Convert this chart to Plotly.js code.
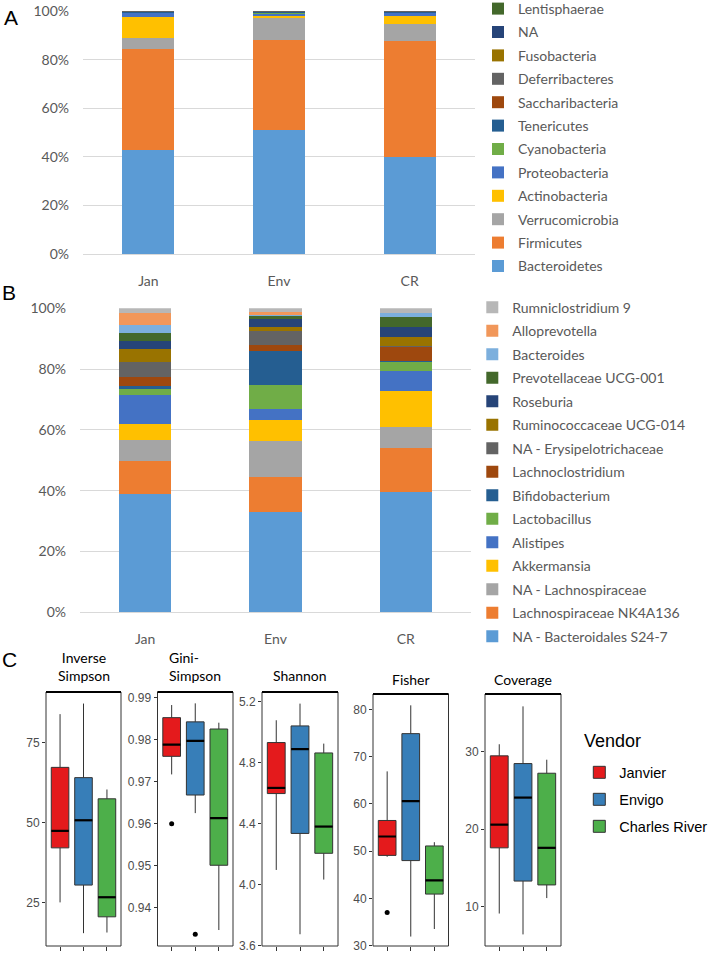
<!DOCTYPE html>
<html><head><meta charset="utf-8">
<script src="https://cdn.plot.ly/plotly-3.0.1.min.js"></script>
<style>html,body{margin:0;padding:0;background:#fff}#chart{width:709px;height:953px}</style>
</head><body><div id="chart"></div>
<script>
// ---------------- DATA ----------------
const groupsAB = ['Jan', 'Env', 'CR'];
const percentTicks = [0, 20, 40, 60, 80, 100];
const percentTickText = ['0%', '20%', '40%', '60%', '80%', '100%'];

// Panel A: phyla (stack order bottom -> top)
const phyla = ['Bacteroidetes','Firmicutes','Verrucomicrobia','Actinobacteria','Proteobacteria','Cyanobacteria',
               'Tenericutes','Saccharibacteria','Deferribacteres','Fusobacteria','NA','Lentisphaerae'];
const phylaColors = ['#5B9BD5','#ED7D31','#A5A5A5','#FFC000','#4472C4','#70AD47',
                     '#255E91','#9E480E','#636363','#997300','#264478','#43682B'];
const phylaJan = [42.8, 41.6, 4.6, 8.7, 1.5, 0.1, 0.2, 0.2, 0.1, 0.0, 0.1, 0.1];
const phylaEnv = [51.0, 37.2, 8.9, 0.7, 1.0, 0.5, 0.2, 0.1, 0.2, 0.0, 0.0, 0.2];
const phylaCR  = [39.8, 47.9, 7.1, 3.3, 1.0, 0.1, 0.2, 0.1, 0.5, 0.0, 0.0, 0.0];

// Panel B: genera (stack order bottom -> top)
const genera = ['NA - Bacteroidales S24-7','Lachnospiraceae NK4A136','NA - Lachnospiraceae','Akkermansia','Alistipes',
                'Lactobacillus','Bifidobacterium','Lachnoclostridium','NA - Erysipelotrichaceae','Ruminococcaceae UCG-014',
                'Roseburia','Prevotellaceae UCG-001','Bacteroides','Alloprevotella','Rumniclostridium 9'];
const generaColors = ['#5B9BD5','#ED7D31','#A5A5A5','#FFC000','#4472C4','#70AD47','#255E91','#9E480E',
                      '#636363','#997300','#264478','#43682B','#7CAFDD','#F1975A','#B7B7B7'];
const generaJan = [38.8, 11.0, 6.9, 5.4, 9.5, 2.0, 0.7, 3.2, 4.8, 4.4, 2.5, 2.7, 2.7, 4.0, 1.4];
const generaEnv = [33.0, 11.4, 11.9, 6.9, 3.8, 7.7, 11.1, 2.1, 4.6, 1.4, 2.5, 1.1, 0.4, 0.9, 1.2];
const generaCR  = [39.7, 14.2, 6.9, 12.0, 6.5, 3.0, 0.2, 4.8, 0.2, 2.9, 3.3, 3.3, 1.6, 0.0, 1.4];

// Panel C: alpha diversity box statistics (Janvier, Envigo, Charles River)
const vendors = ['Janvier', 'Envigo', 'Charles River'];
const vendorColors = ['#E41A1C', '#377EB8', '#4DAF4A'];

const invSimpsonLower  = [25.1, 15.5, 15.7];
const invSimpsonQ1     = [42.1, 30.5, 20.6];
const invSimpsonMedian = [47.4, 50.7, 26.7];
const invSimpsonQ3     = [67.2, 64.0, 57.4];
const invSimpsonUpper  = [83.8, 87.1, 60.3];

const giniLower  = [0.9717, 0.9625, 0.9347];
const giniQ1     = [0.9760, 0.9668, 0.9501];
const giniMedian = [0.9788, 0.9797, 0.9613];
const giniQ3     = [0.9852, 0.9842, 0.9825];
const giniUpper  = [0.9882, 0.9886, 0.9840];
const giniOutliers = [0.9600, 0.9337];
const giniOutlierVendor = ['Janvier', 'Envigo'];

const shannonLower  = [4.096, 3.675, 4.033];
const shannonQ1     = [4.596, 4.335, 4.205];
const shannonMedian = [4.633, 4.887, 4.380];
const shannonQ3     = [4.930, 5.039, 4.862];
const shannonUpper  = [5.076, 5.185, 4.923];

const fisherLower  = [48.8, 31.9, 33.5];
const fisherQ1     = [49.1, 48.0, 40.9];
const fisherMedian = [53.1, 60.6, 43.8];
const fisherQ3     = [56.5, 74.9, 51.1];
const fisherUpper  = [66.9, 80.9, 51.9];
const fisherOutliers = [37.0];
const fisherOutlierVendor = ['Janvier'];

const coverageLower  = [9.1, 6.4, 11.1];
const coverageQ1     = [17.6, 13.3, 12.8];
const coverageMedian = [20.6, 24.1, 17.6];
const coverageQ3     = [29.5, 28.5, 27.25];
const coverageUpper  = [31.0, 35.9, 29.0];

const metricTitles = ['Inverse<br>Simpson', 'Gini-<br>Simpson', 'Shannon', 'Fisher', 'Coverage'];
const metricTickVals = [[25, 50, 75], [0.94, 0.95, 0.96, 0.97, 0.98, 0.99], [3.6, 4.0, 4.4, 4.8, 5.2],
                        [30, 40, 50, 60, 70, 80], [10, 20, 30]];
const metricTickFormat = ['d', '.2f', '.1f', 'd', 'd'];

// ---------------- LAYOUT HELPERS ----------------
const W = 709, H = 953;
const fx = p => p / W;
const fy = p => 1 - p / H;

const catFont = {family: 'Lato, "Open Sans", sans-serif', size: 14, color: '#595959'};
const legFont = {family: 'Lato, "Open Sans", sans-serif', size: 14, color: '#595959'};

const traces = [];

// Panel A
const phylaByGroup = [phylaJan, phylaEnv, phylaCR];
phyla.forEach((name, i) => {
  traces.push({
    type: 'bar', name: name, x: groupsAB, y: phylaByGroup.map(g => g[i]),
    marker: {color: phylaColors[i], line: {width: 0}},
    xaxis: 'x', yaxis: 'y', legend: 'legend', legendgroup: 'A' + i, legendrank: 1000 - i,
    hoverinfo: 'name+y'
  });
});

// Panel B
const generaByGroup = [generaJan, generaEnv, generaCR];
genera.forEach((name, i) => {
  traces.push({
    type: 'bar', name: name, x: groupsAB, y: generaByGroup.map(g => g[i]),
    marker: {color: generaColors[i], line: {width: 0}},
    xaxis: 'x2', yaxis: 'y2', legend: 'legend2', legendgroup: 'B' + i, legendrank: 1000 - i,
    hoverinfo: 'name+y'
  });
});

// Panel C
const metrics = [
  {lower: invSimpsonLower, q1: invSimpsonQ1, med: invSimpsonMedian, q3: invSimpsonQ3, upper: invSimpsonUpper, out: [], outV: []},
  {lower: giniLower, q1: giniQ1, med: giniMedian, q3: giniQ3, upper: giniUpper, out: giniOutliers, outV: giniOutlierVendor},
  {lower: shannonLower, q1: shannonQ1, med: shannonMedian, q3: shannonQ3, upper: shannonUpper, out: [], outV: []},
  {lower: fisherLower, q1: fisherQ1, med: fisherMedian, q3: fisherQ3, upper: fisherUpper, out: fisherOutliers, outV: fisherOutlierVendor},
  {lower: coverageLower, q1: coverageQ1, med: coverageMedian, q3: coverageQ3, upper: coverageUpper, out: [], outV: []}
];
const boxW = 0.75;
metrics.forEach((m, k) => {
  const xa = 'x' + (k + 3), ya = 'y' + (k + 3);
  vendors.forEach((v, j) => {
    traces.push({
      type: 'box', name: v, orientation: 'v', x: [j + 1],
      q1: [m.q1[j]], median: [m.med[j]], q3: [m.q3[j]],
      lowerfence: [m.lower[j]], upperfence: [m.upper[j]],
      width: boxW, boxpoints: false, whiskerwidth: 0,
      fillcolor: vendorColors[j], line: {color: '#333333', width: 1},
      xaxis: xa, yaxis: ya, legend: 'legend3', legendgroup: v,
      showlegend: k === 0, hoverinfo: 'y'
    });
  });
  // thicker black median lines
  const mx = [], my = [];
  vendors.forEach((v, j) => {
    mx.push(j + 1 - boxW / 2, j + 1 + boxW / 2, null);
    my.push(m.med[j], m.med[j], null);
  });
  traces.push({type: 'scatter', mode: 'lines', x: mx, y: my, line: {color: '#000', width: 2.2},
               xaxis: xa, yaxis: ya, showlegend: false, hoverinfo: 'skip'});
  if (m.out.length) {
    traces.push({type: 'scatter', mode: 'markers', x: m.outV.map(v => vendors.indexOf(v) + 1), y: m.out,
                 marker: {color: '#000', size: 5}, xaxis: xa, yaxis: ya, showlegend: false, hoverinfo: 'y'});
  }
});

// ---------------- LAYOUT ----------------
const layout = {
  width: W, height: H,
  margin: {l: 0, r: 0, t: 0, b: 0, autoexpand: false},
  paper_bgcolor: '#fff', plot_bgcolor: 'rgba(0,0,0,0)',
  barmode: 'stack', bargap: 0.6, boxmode: 'overlay',
  font: {family: 'Lato, sans-serif'},
  xaxis: {domain: [fx(83), fx(475)], anchor: 'y', tickfont: catFont, showline: true, linecolor: '#D9D9D9',
          ticks: '', ticklabelstandoff: 14, fixedrange: true, showgrid: false},
  yaxis: {domain: [fy(254), fy(11)], anchor: 'x', range: [0, 100], tickmode: 'array', tickvals: percentTicks, ticktext: percentTickText,
          gridcolor: '#D9D9D9', zeroline: false, tickfont: catFont, ticklabelstandoff: 13, fixedrange: true},
  xaxis2: {domain: [fx(80), fx(471)], anchor: 'y2', tickfont: catFont, showline: true, linecolor: '#D9D9D9',
           ticks: '', ticklabelstandoff: 14, fixedrange: true, showgrid: false},
  yaxis2: {domain: [fy(612.3), fy(308.3)], anchor: 'x2', range: [0, 100], tickmode: 'array', tickvals: percentTicks, ticktext: percentTickText,
           gridcolor: '#D9D9D9', zeroline: false, tickfont: catFont, ticklabelstandoff: 13, fixedrange: true},
  legend: {x: fx(478), y: 1 + 7 / H, xanchor: 'left', yanchor: 'top', font: legFont, bgcolor: 'rgba(0,0,0,0)',
           traceorder: 'grouped', tracegroupgap: 2.2},
  legend2: {x: fx(472.3), y: fy(291.7), xanchor: 'left', yanchor: 'top', font: legFont, bgcolor: 'rgba(0,0,0,0)',
            traceorder: 'grouped', tracegroupgap: 2.3},
  legend3: {x: fx(579.3), y: fy(756.4), xanchor: 'left', yanchor: 'top', bgcolor: 'rgba(0,0,0,0)',
            font: {family: '"Liberation Sans", Arial, sans-serif', size: 14.5, color: '#000'},
            traceorder: 'grouped', tracegroupgap: 5.15},
  annotations: [],
  shapes: []
};

const panelX = [[46, 121], [157.5, 233], [262, 338], [373, 448.5], [485, 561]];
const panelTop = [692, 692, 692, 694, 694];
const panelBottom = 946;
const panelRange = [[11.5, 90.7], [0.9309, 0.9913], [3.598, 5.261], [29.9, 83.3], [4.9, 37.5]];
const titleY = [[656.7, 675.7], [656.7, 675.7], [675.7], [679], [679]];

metrics.forEach((m, k) => {
  const n = k + 3;
  layout['xaxis' + n] = {domain: [fx(panelX[k][0]), fx(panelX[k][1])], anchor: 'y' + n, range: [0.4, 3.6],
    tickvals: [1, 2, 3], showticklabels: false, ticks: 'outside', ticklen: 4, tickcolor: '#333', tickwidth: 1,
    showgrid: false, zeroline: false, showline: false, fixedrange: true};
  layout['yaxis' + n] = {domain: [fy(panelBottom), fy(panelTop[k])], anchor: 'x' + n, range: panelRange[k],
    tickvals: metricTickVals[k], tickformat: metricTickFormat[k], ticks: 'outside', ticklen: 3, tickcolor: '#333',
    tickfont: {family: '"Liberation Sans", Arial, sans-serif', size: 12, color: '#4D4D4D'},
    showgrid: false, zeroline: false, showline: false, fixedrange: true};
  layout.shapes.push({type: 'rect', xref: 'x' + n + ' domain', yref: 'y' + n + ' domain', x0: 0, x1: 1, y0: 0, y1: 1,
    line: {color: '#333333', width: 1}, layer: 'above'});
  layout.shapes.push({type: 'line', xref: 'x' + n + ' domain', yref: 'y' + n + ' domain', x0: 0, x1: 1, y0: 1, y1: 1,
    line: {color: '#000', width: 2}, layer: 'above'});
  const cy = (titleY[k][0] + titleY[k][titleY[k].length - 1]) / 2;
  layout.annotations.push({xref: 'x' + n + ' domain', yref: 'paper', x: 0.5, y: fy(cy), xanchor: 'center', yanchor: 'middle',
    text: metricTitles[k], showarrow: false, align: k === 1 ? 'left' : 'center',
    font: {family: 'Lato, sans-serif', size: 14, color: '#000'}});
});

const letterFont = {family: '"Liberation Sans", Arial, sans-serif', size: 21, color: '#000'};
layout.annotations.push(
  {xref: 'paper', yref: 'paper', x: fx(2), y: fy(17), xanchor: 'left', yanchor: 'middle', text: 'A', showarrow: false, font: letterFont},
  {xref: 'paper', yref: 'paper', x: fx(0), y: fy(292.5), xanchor: 'left', yanchor: 'middle', text: 'B', showarrow: false, font: letterFont},
  {xref: 'paper', yref: 'paper', x: fx(0), y: fy(659), xanchor: 'left', yanchor: 'middle', text: 'C', showarrow: false, font: letterFont},
  {xref: 'paper', yref: 'paper', x: fx(582), y: fy(741), xanchor: 'left', yanchor: 'middle', text: 'Vendor', showarrow: false,
   font: {family: '"Liberation Sans", Arial, sans-serif', size: 18, color: '#000'}}
);

Plotly.newPlot('chart', traces, layout, {displayModeBar: false, staticPlot: true});
</script>
</body></html>
